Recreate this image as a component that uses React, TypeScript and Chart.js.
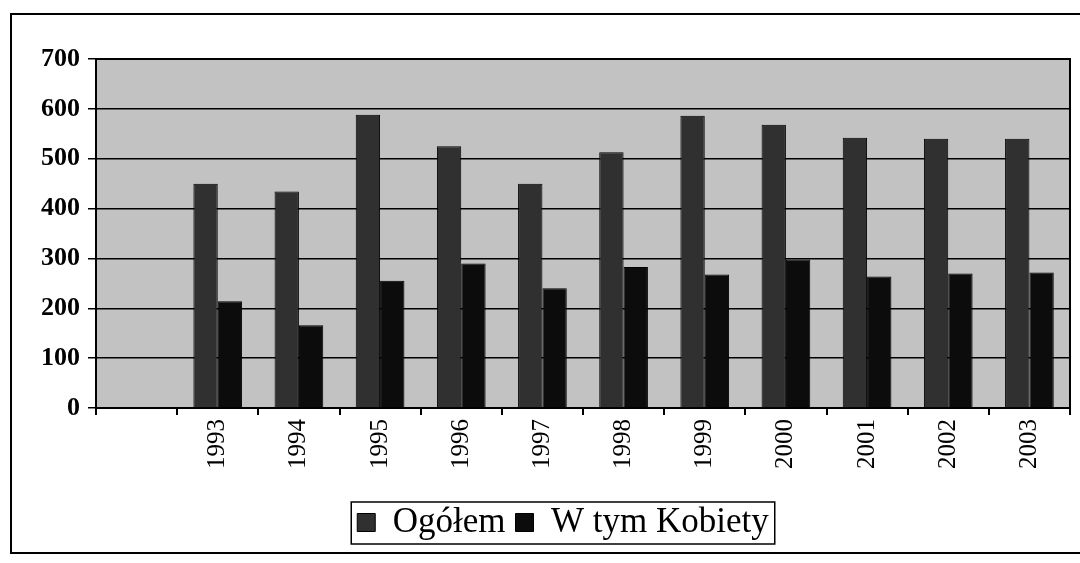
import React, { useEffect, useRef } from 'react';
import { Chart, registerables } from 'chart.js';

Chart.register(...registerables);

const categories = ['', '1993', '1994', '1995', '1996', '1997', '1998', '1999', '2000', '2001', '2002', '2003'];
const ogolem = [null, 450, 434, 588, 525, 450, 513, 586, 568, 542, 540, 540];
const kobiety = [null, 214, 166, 255, 290, 240, 283, 268, 298, 264, 270, 272];
const seriesLabels = ['Ogółem', 'W tym Kobiety'];
const yMin = 0;
const yMax = 700;
const yStep = 100;

const FONT = "'Liberation Serif', 'DejaVu Serif', serif";

const decorPlugin = {
  id: 'decor',
  afterLayout(chart: any) {
    const lg = chart.legend;
    if (lg) {
      lg.left += 28;
      lg.right += 28;
    }
  },
  beforeDraw(chart: any) {
    const { ctx, chartArea } = chart;
    ctx.save();
    ctx.fillStyle = '#ffffff';
    ctx.fillRect(0, 0, chart.width, chart.height);
    ctx.fillStyle = '#c2c2c2';
    ctx.fillRect(chartArea.left, chartArea.top, chartArea.right - chartArea.left, chartArea.bottom - chartArea.top);
    ctx.restore();
  },
  afterDraw(chart: any) {
    const { ctx, chartArea } = chart;
    ctx.save();
    ctx.strokeStyle = '#000';
    ctx.lineWidth = 2;
    ctx.beginPath();
    ctx.moveTo(chartArea.left, chartArea.top);
    ctx.lineTo(chartArea.right, chartArea.top);
    ctx.lineTo(chartArea.right, chartArea.bottom);
    ctx.stroke();
    ctx.beginPath();
    ctx.moveTo(chart.width, 14);
    ctx.lineTo(11, 14);
    ctx.lineTo(11, 553);
    ctx.lineTo(chart.width, 553);
    ctx.stroke();
    const lg = chart.legend;
    if (lg && lg.legendHitBoxes && lg.legendHitBoxes.length) {
      const hb = lg.legendHitBoxes;
      const first = hb[0];
      const last = hb[hb.length - 1];
      const x0 = first.left - 6;
      const x1 = last.left + last.width + 6;
      const y0 = first.top - 3;
      const y1 = first.top + first.height + 4;
      ctx.lineWidth = 1.5;
      ctx.strokeRect(x0, y0, x1 - x0, y1 - y0);
    }
    ctx.restore();
  },
};

export default function App() {
  const ref = useRef<HTMLCanvasElement | null>(null);

  useEffect(() => {
    if (!ref.current) return;
    const chart = new Chart(ref.current, {
      type: 'bar',
      data: {
        labels: categories,
        datasets: [
          {
            label: seriesLabels[0],
            data: ogolem,
            backgroundColor: '#303030',
            borderColor: '#000',
            borderWidth: 1,
            categoryPercentage: 0.6,
            barPercentage: 1.0,
          },
          {
            label: seriesLabels[1],
            data: kobiety,
            backgroundColor: '#0c0c0c',
            borderColor: '#000',
            borderWidth: 1,
            categoryPercentage: 0.6,
            barPercentage: 1.0,
          },
        ],
      },
      options: {
        responsive: false,
        animation: false,
        devicePixelRatio: 1,
        layout: { padding: { left: 0, right: 10, top: 59, bottom: 13 } },
        plugins: {
          tooltip: { enabled: false },
          legend: {
            position: 'bottom',
            labels: {
              color: '#000',
              font: { family: FONT, size: 35 },
              boxWidth: 18,
              boxHeight: 18,
              padding: 10,
            },
          },
        },
        scales: {
          x: {
            offset: true,
            grid: { display: true, drawOnChartArea: false, drawTicks: true, tickLength: 7, color: '#000', lineWidth: 2, offset: true },
            border: { display: true, color: '#000', width: 2 },
            ticks: {
              color: '#000',
              font: { family: FONT, size: 25 },
              minRotation: 90,
              maxRotation: 90,
              autoSkip: false,
              padding: 4,
            },
            afterFit(scale: any) {
              scale.height = 87;
            },
          },
          y: {
            min: yMin,
            max: yMax,
            ticks: {
              stepSize: yStep,
              color: '#000',
              font: { family: FONT, size: 26, weight: 'bold' },
              padding: 8,
            },
            grid: { color: '#000', lineWidth: 1.5, drawTicks: true, tickLength: 8 },
            border: { display: true, color: '#000', width: 2 },
            afterFit(scale: any) {
              scale.width = 96;
            },
          },
        },
      },
      plugins: [decorPlugin],
    });
    return () => chart.destroy();
  }, []);

  return (
    <div style={{ position: 'fixed', left: 0, top: 0, width: 1080, height: 563, background: '#fff' }}>
      <canvas ref={ref} width={1080} height={563} style={{ display: 'block', width: 1080, height: 563 }} />
    </div>
  );
}
